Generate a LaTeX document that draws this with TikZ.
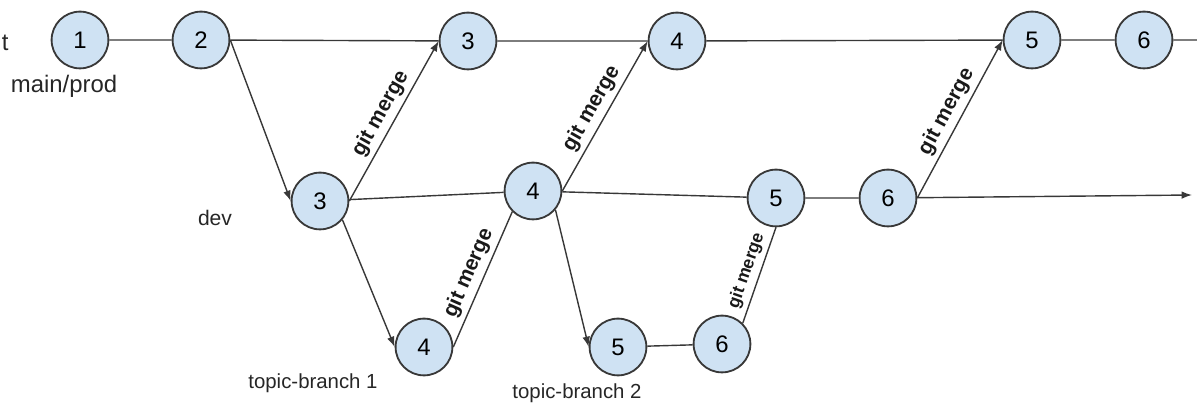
\documentclass[tikz,border=0pt]{standalone}
\usepackage{fontspec}
\setmainfont{Liberation Sans}
\usetikzlibrary{arrows.meta}
\definecolor{commitblue}{HTML}{CFE2F3}
\definecolor{linegray}{HTML}{383838}

\begin{document}
\begin{tikzpicture}[
  >={Latex[length=2.6mm, width=1.9mm]},
  commit/.style={circle, draw=linegray, line width=1.3pt, fill=commitblue, minimum size=1.42cm, inner sep=0pt, font=\fontsize{17}{20}\selectfont},
  branch/.style={text=black!85, font=\fontsize{15}{18}\selectfont},
  link/.style={draw=linegray, line width=1pt},
  merge/.style={midway, sloped, above, text=black!90, font=\bfseries\fontsize{15}{18}\selectfont}
]
  \useasboundingbox (0, 0) rectangle (29.925, 10.075);

  \node[branch, anchor=base east, inner sep=0pt, font=\fontsize{17}{20}\selectfont] (cut) at (0.22, 8.8) {t};

  \node[commit] (m1) at (2.0, 9.075) {1};
  \node[commit] (m2) at (5.025, 9.075) {2};
  \node[commit] (m3) at (11.7, 9.05) {3};
  \node[commit] (m4) at (16.925, 9.05) {4};
  \node[commit] (m5) at (25.8, 9.075) {5};
  \node[commit] (m6) at (28.6, 9.075) {6};
  \coordinate (mainend) at (30.2, 9.075);

  \node[commit] (d3) at (8.0, 5.05) {3};
  \node[commit] (d4) at (13.325, 5.3) {4};
  \node[commit] (d5) at (19.4, 5.125) {5};
  \node[commit] (d6) at (22.2, 5.125) {6};
  \coordinate (devend) at (29.8, 5.2);

  \node[commit] (t14) at (10.6, 1.4) {4};
  \node[commit] (t25) at (15.45, 1.4) {5};
  \node[commit] (t26) at (18.05, 1.475) {6};

  \node[branch, font=\fontsize{17}{20}\selectfont] (mainlbl) at (1.6, 7.925) {main/prod};
  \node[branch] (devlbl) at (5.375, 4.625) {dev};
  \node[branch, font=\fontsize{14.5}{17}\selectfont] (topic1) at (7.825, 0.5) {topic-branch 1};
  \node[branch, font=\fontsize{14.5}{17}\selectfont] (topic2) at (14.425, 0.25) {topic-branch 2};

  \draw[link] (m1) -- (m2) (m2) -- (m3) (m3) -- (m4) (m4) -- (m5) (m5) -- (m6) (m6) -- (mainend);
  \draw[link] (d3) -- (d4) (d4) -- (d5) (d5) -- (d6);
  \draw[link, ->] (d6) -- (devend);
  \draw[link] (t25) -- (t26);

  \draw[link, ->] (m2.east) -- (d3.west);
  \draw[link, ->] (d3.-40) -- (t14.west);
  \draw[link, ->] (d4.-40) -- (t25.west);

  \draw[link, ->] (d3.east) -- node[merge] {git merge} (m3.west);
  \draw[link, ->] (d4.east) -- node[merge] {git merge} (m4.west);
  \draw[link, ->] (d6.east) -- node[merge] {git merge} (m5.west);
  \draw[link] (t14.east) -- node[merge] {git merge} (d4.south west);
  \draw[link] (t26.north east) -- node[merge, font=\bfseries\fontsize{12.5}{15}\selectfont] {git merge} (d5.south);
\end{tikzpicture}
\end{document}
